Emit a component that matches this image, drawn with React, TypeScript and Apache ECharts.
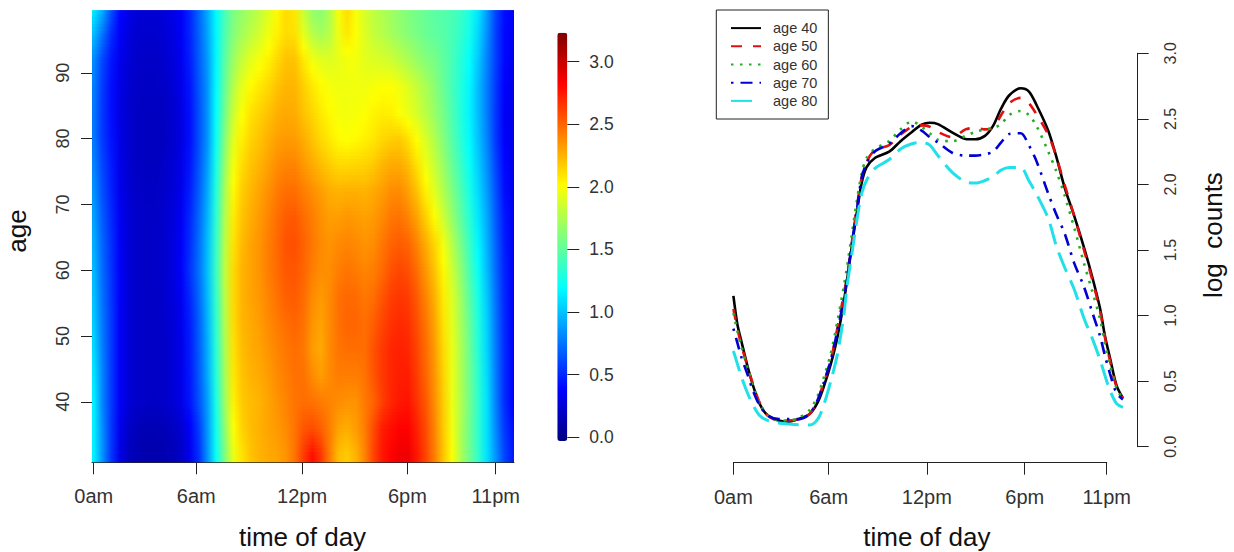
import React, { useEffect, useRef } from "react";
import * as echarts from "echarts";

const FONT = '"Liberation Sans", Arial, sans-serif';

const tickHours = [0, 5.87, 11.92, 17.95, 23];
const tickLabels = ["0am", "6am", "12pm", "6pm", "11pm"];
const ageTicks = [40, 50, 60, 70, 80, 90];
const colorTicks = [0, 0.5, 1, 1.5, 2, 2.5, 3];
const logTicks = [0, 0.5, 1, 1.5, 2, 2.5, 3];

const jet = ["#00007f", "#0000ff", "#007fff", "#00ffff", "#7fff7f", "#ffff00", "#ff7f00", "#ff0000", "#7f0000"];
const colorMin = -0.03;
const colorMax = 3.23;

// Heat map: one row per age, half-hour columns from 0 to 24.
const heatAges = [32, 36, 40, 44, 48, 52, 56, 60, 64, 68, 72, 76, 80, 84, 88, 92, 96, 100];
const heatHours = [0, 0.5, 1, 1.5, 2, 2.5, 3, 3.5, 4, 4.5, 5, 5.5, 6, 6.5, 7, 7.5, 8, 8.5, 9, 9.5, 10, 10.5, 11, 11.5, 12, 12.5, 13, 13.5, 14, 14.5, 15, 15.5, 16, 16.5, 17, 17.5, 18, 18.5, 19, 19.5, 20, 20.5, 21, 21.5, 22, 22.5, 23, 23.5, 24];
const heatRows = [
  [1.15,.85,.55,.30,.18,.14,.12,.12,.13,.15,.20,.32,.52,.85,1.22,1.6,1.95,2.1,2.2,2.25,2.28,2.3,2.35,2.45,2.63,2.78,2.65,2.42,2.22,2.17,2.25,2.4,2.6,2.75,2.82,2.87,2.87,2.75,2.6,2.42,2.2,2.0,1.75,1.55,1.35,1.1,.85,.6,.45],
  [1.15,.83,.55,.32,.2,.16,.14,.14,.15,.18,.23,.36,.56,.86,1.24,1.65,2.0,2.15,2.22,2.26,2.3,2.33,2.38,2.45,2.55,2.58,2.52,2.42,2.3,2.27,2.32,2.42,2.58,2.73,2.78,2.82,2.82,2.72,2.58,2.4,2.18,1.97,1.75,1.55,1.34,1.1,.82,.56,.42],
  [1.15,.8,.56,.36,.25,.21,.2,.19,.21,.24,.3,.44,.63,.88,1.27,1.7,2.05,2.18,2.22,2.25,2.3,2.35,2.4,2.45,2.47,2.46,2.43,2.4,2.37,2.35,2.35,2.43,2.5,2.62,2.7,2.75,2.76,2.66,2.54,2.37,2.17,1.95,1.76,1.56,1.34,1.1,.79,.52,.37],
  [1.12,.8,.56,.36,.25,.21,.2,.2,.21,.24,.31,.45,.65,.92,1.3,1.72,2.08,2.2,2.25,2.28,2.32,2.38,2.42,2.46,2.46,2.38,2.32,2.38,2.42,2.42,2.42,2.45,2.55,2.64,2.7,2.73,2.73,2.63,2.5,2.35,2.15,1.95,1.75,1.55,1.33,1.08,.78,.52,.38],
  [1.08,.78,.56,.36,.25,.21,.2,.2,.21,.24,.31,.46,.66,.93,1.32,1.74,2.1,2.22,2.27,2.3,2.35,2.4,2.44,2.47,2.44,2.33,2.28,2.38,2.45,2.47,2.47,2.47,2.56,2.64,2.7,2.72,2.7,2.6,2.48,2.33,2.13,1.94,1.75,1.54,1.31,1.06,.77,.52,.37],
  [1.03,.76,.56,.36,.25,.21,.2,.2,.21,.25,.32,.47,.67,.95,1.34,1.76,2.12,2.24,2.28,2.32,2.38,2.43,2.47,2.5,2.46,2.35,2.3,2.38,2.46,2.5,2.5,2.47,2.52,2.6,2.66,2.69,2.67,2.57,2.45,2.3,2.1,1.92,1.73,1.52,1.29,1.05,.76,.51,.37],
  [1.0,.74,.55,.36,.25,.21,.2,.2,.22,.26,.34,.5,.7,.97,1.36,1.78,2.13,2.25,2.3,2.34,2.4,2.46,2.52,2.53,2.48,2.38,2.33,2.38,2.46,2.49,2.48,2.44,2.47,2.55,2.62,2.65,2.63,2.53,2.4,2.26,2.07,1.9,1.7,1.48,1.26,1.02,.74,.5,.36],
  [.97,.72,.54,.36,.25,.21,.2,.2,.22,.27,.36,.54,.73,.99,1.38,1.8,2.13,2.25,2.3,2.35,2.42,2.48,2.54,2.55,2.5,2.42,2.37,2.37,2.42,2.45,2.43,2.4,2.42,2.48,2.56,2.6,2.57,2.47,2.34,2.2,2.03,1.85,1.65,1.43,1.22,.98,.72,.49,.36],
  [.94,.7,.53,.35,.25,.21,.2,.2,.22,.27,.36,.52,.72,.98,1.36,1.78,2.1,2.23,2.3,2.35,2.42,2.49,2.56,2.57,2.51,2.44,2.38,2.35,2.38,2.4,2.38,2.35,2.37,2.44,2.5,2.53,2.5,2.4,2.27,2.14,1.97,1.78,1.58,1.38,1.17,.95,.7,.47,.35],
  [.9,.67,.51,.34,.25,.21,.2,.2,.22,.26,.34,.5,.7,.95,1.33,1.76,2.07,2.2,2.27,2.33,2.4,2.47,2.53,2.54,2.48,2.42,2.36,2.32,2.32,2.34,2.33,2.31,2.33,2.38,2.44,2.46,2.4,2.3,2.16,2.02,1.85,1.68,1.5,1.32,1.12,.92,.67,.45,.35],
  [.85,.63,.48,.32,.24,.2,.19,.19,.21,.25,.32,.47,.67,.92,1.3,1.73,2.03,2.17,2.24,2.3,2.36,2.43,2.47,2.47,2.42,2.37,2.32,2.27,2.25,2.26,2.26,2.25,2.28,2.32,2.37,2.38,2.31,2.2,2.05,1.91,1.76,1.6,1.44,1.27,1.08,.88,.64,.42,.33],
  [.8,.6,.46,.31,.23,.19,.18,.18,.2,.24,.3,.44,.64,.88,1.26,1.68,1.98,2.12,2.2,2.25,2.31,2.37,2.4,2.4,2.34,2.28,2.22,2.17,2.13,2.13,2.14,2.15,2.18,2.24,2.28,2.28,2.22,2.1,1.96,1.83,1.69,1.53,1.38,1.22,1.04,.84,.6,.4,.32],
  [.76,.56,.43,.3,.22,.19,.18,.18,.18,.22,.28,.42,.62,.85,1.22,1.62,1.92,2.06,2.15,2.2,2.26,2.31,2.33,2.32,2.27,2.2,2.13,2.07,2.02,2.0,2.02,2.05,2.08,2.13,2.16,2.17,2.1,2.0,1.88,1.76,1.62,1.47,1.33,1.18,1.0,.8,.56,.37,.31],
  [.76,.55,.42,.29,.22,.19,.18,.18,.19,.22,.29,.42,.62,.85,1.2,1.56,1.85,2.0,2.1,2.15,2.2,2.26,2.28,2.27,2.2,2.14,2.07,2.02,1.98,1.97,1.98,2.0,2.04,2.06,2.05,2.0,1.94,1.87,1.78,1.68,1.57,1.44,1.3,1.16,.98,.78,.55,.36,.3],
  [.78,.56,.42,.3,.23,.2,.19,.19,.2,.24,.31,.44,.64,.85,1.18,1.52,1.78,1.93,2.02,2.08,2.13,2.2,2.24,2.24,2.16,2.08,2.02,1.98,1.96,1.96,1.97,1.96,1.98,2.0,2.0,1.96,1.9,1.82,1.74,1.64,1.53,1.42,1.3,1.17,.98,.78,.56,.38,.31],
  [.82,.6,.44,.32,.25,.21,.2,.2,.22,.26,.33,.47,.66,.87,1.17,1.48,1.7,1.83,1.92,1.98,2.05,2.13,2.2,2.2,2.08,1.97,1.92,1.9,1.93,1.97,1.97,1.92,1.9,1.88,1.85,1.8,1.74,1.68,1.62,1.58,1.5,1.42,1.32,1.2,1.02,.8,.58,.4,.33],
  [.98,.75,.52,.36,.27,.23,.22,.22,.24,.28,.35,.49,.68,.9,1.17,1.44,1.62,1.72,1.8,1.87,1.96,2.05,2.12,2.1,1.93,1.78,1.72,1.78,1.95,2.08,2.0,1.9,1.82,1.78,1.72,1.67,1.62,1.58,1.53,1.5,1.47,1.42,1.35,1.25,1.07,.84,.58,.4,.35],
  [1.15,.95,.65,.4,.3,.25,.24,.24,.26,.3,.37,.5,.7,.92,1.18,1.42,1.58,1.66,1.73,1.8,1.9,2.02,2.12,2.08,1.82,1.66,1.62,1.75,1.98,2.12,1.98,1.88,1.8,1.75,1.7,1.65,1.6,1.56,1.52,1.48,1.46,1.43,1.38,1.28,1.12,.88,.6,.42,.36],
];

// Line chart: shared hours, one value list per age.
const lineHours = [0,.25,.5,.9,1.2,1.6,2.1,2.8,3.4,4,4.7,5.2,5.6,6,6.4,6.8,7,7.3,7.6,7.9,8.2,8.7,9.6,10.3,11,11.6,12.1,12.6,13.5,14.3,14.9,15.5,16,16.5,17,17.7,18.2,18.7,19.4,19.9,20.4,21,21.6,22.1,22.6,22.9,23.2,23.6,24];
const age40 = [1.15,.93,.80,.60,.47,.33,.24,.20,.19,.21,.25,.34,.47,.63,.83,1.1,1.27,1.53,1.78,2.01,2.13,2.2,2.25,2.33,2.4,2.455,2.47,2.46,2.395,2.347,2.344,2.37,2.446,2.58,2.68,2.733,2.71,2.6,2.41,2.21,1.98,1.76,1.52,1.3,1.05,.84,.68,.47,.37];
const age50 = [1.05,.90,.77,.60,.48,.34,.24,.20,.20,.21,.25,.36,.50,.66,.90,1.16,1.30,1.56,1.82,2.05,2.17,2.26,2.3,2.38,2.44,2.45,2.44,2.40,2.36,2.42,2.43,2.42,2.43,2.53,2.62,2.66,2.62,2.53,2.38,2.21,2.0,1.76,1.5,1.28,1.03,.83,.66,.46,.37];
const age60 = [1.02,.88,.76,.59,.47,.34,.24,.20,.20,.22,.28,.39,.54,.71,.95,1.22,1.37,1.62,1.87,2.08,2.2,2.27,2.33,2.42,2.48,2.44,2.39,2.34,2.33,2.37,2.40,2.42,2.43,2.46,2.53,2.56,2.53,2.44,2.25,2.10,1.92,1.67,1.40,1.19,.97,.78,.63,.45,.36];
const age70 = [.90,.79,.68,.54,.43,.32,.24,.21,.21,.21,.25,.36,.50,.66,.88,1.12,1.28,1.55,1.80,2.05,2.16,2.25,2.31,2.39,2.445,2.41,2.36,2.32,2.24,2.22,2.22,2.23,2.25,2.32,2.385,2.39,2.30,2.17,1.93,1.77,1.63,1.40,1.22,1.03,.84,.69,.56,.41,.36];
const age80 = [.73,.63,.53,.40,.32,.24,.20,.18,.173,.168,.165,.21,.33,.50,.70,1.0,1.22,1.47,1.72,1.93,2.03,2.12,2.19,2.27,2.31,2.32,2.30,2.22,2.09,2.02,2.01,2.03,2.06,2.11,2.13,2.13,2.03,1.92,1.74,1.53,1.37,1.2,.98,.83,.66,.54,.43,.33,.3];

const lineNames = ["age 40", "age 50", "age 60", "age 70", "age 80"];
const lineValues = [age40, age50, age60, age70, age80];
const lineColors = ["#000000", "#e01010", "#22b022", "#0000d0", "#22e0e8"];
const lineDashes: any[] = ["solid", [11, 11], [2.5, 6.5], [2.5, 7, 12, 7], [21, 9]];

function axisText(size: number, rotate = 0) {
  return { color: "#333", fontFamily: FONT, fontSize: size, rotate };
}

function xAxisFor(gridIndex: number, min: number, max: number, offset: number) {
  return {
    type: "value",
    gridIndex,
    position: "bottom",
    min,
    max,
    offset,
    splitLine: { show: false },
    axisLine: { show: true, onZero: false, lineStyle: { color: "#222", width: 1 } },
    axisTick: { show: true, length: 12, customValues: tickHours, lineStyle: { color: "#222" } },
    axisLabel: {
      ...axisText(20),
      margin: 24,
      customValues: tickHours,
      formatter: (v: number) => tickLabels[tickHours.indexOf(v)] ?? "",
    },
  };
}

function valueColor(v: number) {
  return echarts.color.lerp((v - colorMin) / (colorMax - colorMin), jet) as string;
}

// One band per pair of neighbouring heat rows, shaded smoothly between them.
const STRIPS = 8;
function renderBand(params: any, api: any) {
  const r = api.value(0);
  const cs = params.coordSys;
  const rowA = heatRows[r];
  const rowB = heatRows[Math.min(r + 1, heatRows.length - 1)];
  const ageA = heatAges[r];
  const ageB = r + 1 < heatAges.length ? heatAges[r + 1] : ageA;
  const x0 = api.coord([heatHours[0], ageA])[0];
  const xEnd = api.coord([heatHours[heatHours.length - 1], ageA])[0];
  const offsets = heatHours.map((h) => (api.coord([h, ageA])[0] - x0) / (xEnd - x0));
  const children: any[] = [];
  const top = cs.y;
  const bottom = cs.y + cs.height;
  const pushStrip = (yA: number, yB: number, row: (c: number) => number) => {
    const y0 = Math.max(top, Math.floor(yA));
    const y1 = Math.min(bottom, Math.ceil(yB));
    if (y1 <= y0) return;
    const stops = offsets.map((offset, c) => ({ offset, color: valueColor(row(c)) }));
    children.push({
      type: "rect",
      shape: { x: cs.x, y: y0, width: cs.width, height: y1 - y0 },
      style: {
        fill: new echarts.graphic.LinearGradient(
          (x0 - cs.x) / cs.width,
          0,
          (xEnd - cs.x) / cs.width,
          0,
          stops
        ),
      },
    });
  };
  const yA = api.coord([0, ageA])[1];
  const yB = api.coord([0, ageB])[1];
  if (r === 0) pushStrip(yA, bottom, (c) => rowA[c]);
  if (r + 1 < heatRows.length) {
    for (let s = 0; s < STRIPS; s++) {
      const t = (s + 0.5) / STRIPS;
      const h = (yA - yB) / STRIPS;
      pushStrip(yA - (s + 1) * h, yA - s * h, (c) => rowA[c] + (rowB[c] - rowA[c]) * t);
    }
  }
  return { type: "group", children };
}

function nameText(text: string, x: number, y: number, rotation = 0) {
  return {
    type: "text",
    x,
    y,
    rotation,
    style: { text, fill: "#111", font: `26px ${FONT}`, align: "center", verticalAlign: "middle" },
  };
}

export default function App() {
  const ref = useRef<HTMLDivElement>(null);
  useEffect(() => {
    const chart = echarts.init(ref.current!, undefined, { renderer: "svg" });
    chart.setOption({
      animation: false,
      backgroundColor: "#fff",
      grid: [
        { left: 92, top: 10.3, width: 422, height: 452 },
        { left: 733.4, top: 53.3, width: 389.5, height: 393.4 },
        { left: 557.3, top: 32.7, width: 10, height: 408.3 },
        { left: 733.4, top: 53.3, width: 373.3, height: 393.4 },
      ],
      xAxis: [
        xAxisFor(0, -0.1, 24.05, 0),
        { type: "value", gridIndex: 1, show: false, min: 0, max: 24 },
        { type: "value", gridIndex: 2, show: false, min: 0, max: 1 },
        xAxisFor(3, 0, 23, 16),
      ],
      yAxis: [
        {
          type: "value",
          gridIndex: 0,
          min: 30.8,
          max: 99.5,
          splitLine: { show: false },
          axisLine: { show: false, onZero: false },
          axisTick: { show: true, length: 11, customValues: ageTicks, lineStyle: { color: "#222" } },
          axisLabel: { ...axisText(18, 90), margin: 20, customValues: ageTicks },
        },
        {
          type: "value",
          gridIndex: 1,
          position: "right",
          offset: 14.8,
          min: 0,
          max: 3,
          splitLine: { show: false },
          axisLine: { show: true, onZero: false, lineStyle: { color: "#222", width: 1 } },
          axisTick: { show: true, length: 11, customValues: logTicks, lineStyle: { color: "#222" } },
          axisLabel: {
            ...axisText(16, 90),
            margin: 25,
            customValues: logTicks,
            formatter: (v: number) => v.toFixed(1),
          },
        },
        {
          type: "value",
          gridIndex: 2,
          position: "right",
          min: colorMin,
          max: colorMax,
          splitLine: { show: false },
          axisLine: { show: false, onZero: false },
          axisTick: { show: true, length: 12, customValues: colorTicks, lineStyle: { color: "#222" } },
          axisLabel: {
            ...axisText(17.5),
            margin: 22,
            customValues: colorTicks,
            formatter: (v: number) => v.toFixed(1),
          },
        },
        { type: "value", gridIndex: 3, show: false, min: 0, max: 1 },
      ],
      visualMap: {
        type: "continuous",
        seriesIndex: 0,
        dimension: 1,
        min: colorMin,
        max: colorMax,
        left: 557.3,
        top: 32.7,
        itemWidth: 10,
        itemHeight: 408.3,
        padding: 0,
        calculable: false,
        hoverLink: false,
        text: ["", ""],
        inRange: { color: jet },
      },
      legend: {
        left: 716.3,
        top: 10,
        orient: "vertical",
        data: lineNames,
        itemWidth: 30,
        itemHeight: 15,
        itemGap: 3.2,
        padding: [10.6, 11, 10.6, 13.7],
        borderColor: "#222",
        borderWidth: 1,
        selectedMode: false,
        itemStyle: { opacity: 0 },
        textStyle: { color: "#333", fontFamily: FONT, fontSize: 14.5, padding: [0, 0, 0, 7] },
      },
      graphic: [
        nameText("time of day", 302.5, 537),
        nameText("time of day", 926.8, 537),
        nameText("age", 17, 231, Math.PI / 2),
        nameText("log  counts", 1213, 235, Math.PI / 2),
      ],
      series: [
        {
          type: "custom",
          name: "heat",
          xAxisIndex: 0,
          yAxisIndex: 0,
          renderItem: renderBand,
          data: heatAges.map((_, r) => [r, colorMin]),
          encode: { x: [], y: [] },
          silent: true,
          progressive: 0,
        },
        ...lineNames.map((name, i) => ({
          type: "line",
          name,
          xAxisIndex: 1,
          yAxisIndex: 1,
          clip: false,
          smooth: 0.3,
          symbol: "none",
          showSymbol: false,
          data: lineHours.map((h, k) => [h, lineValues[i][k]]),
          lineStyle: { color: lineColors[i], width: i === 4 ? 3 : 2.6, type: lineDashes[i] },
          itemStyle: { color: lineColors[i] },
        })),
      ],
    });
    return () => chart.dispose();
  }, []);
  return <div ref={ref} style={{ position: "fixed", left: 0, top: 0, width: 1234, height: 552 }} />;
}
